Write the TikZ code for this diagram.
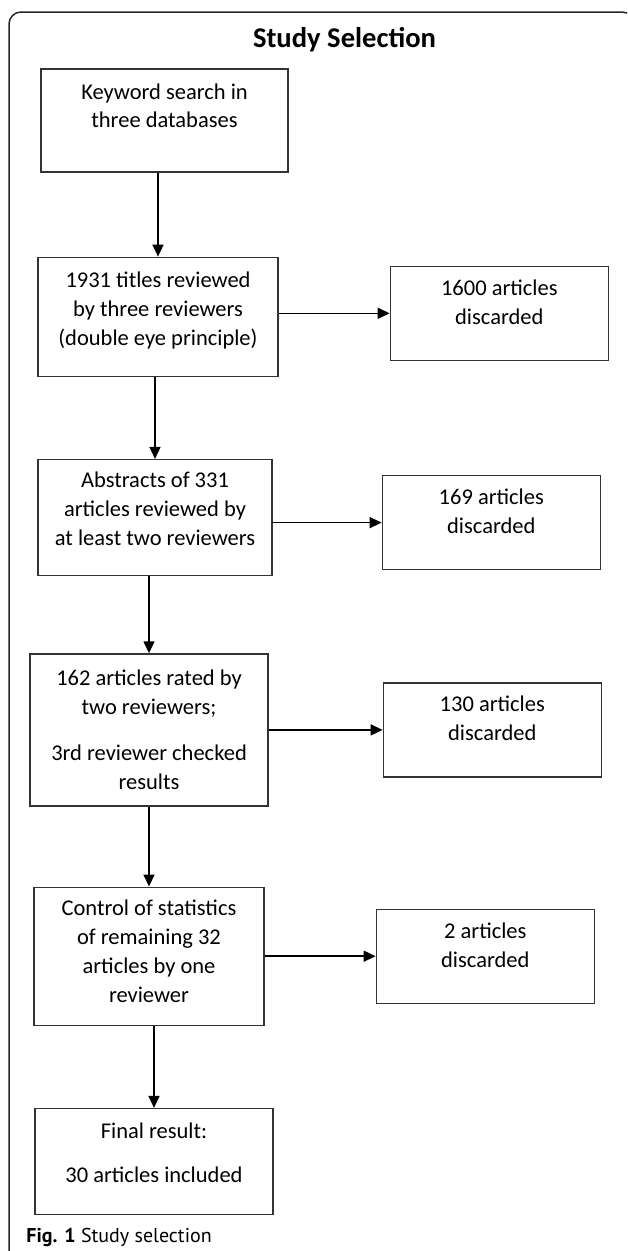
\documentclass[tikz,border=0pt]{standalone}
\usepackage{fontspec}
\setmainfont{Carlito}
\newfontfamily\capfont{PT Sans}
\usepackage{tikz}
\usetikzlibrary{positioning,arrows.meta}

\begin{document}
\begin{tikzpicture}[x=1pt, y=-1pt, thick]
    % Styles
    \tikzstyle{stage} = [draw=black!80, line width=1.3pt, rectangle, align=center, inner sep=0pt, font=\fontsize{22.5}{29}\selectfont]
    \tikzstyle{discard} = [stage, minimum width=218pt, minimum height=94pt, text depth=23pt]
    \tikzstyle{flow} = [line width=1.5pt, -{Triangle[length=12pt, width=11pt]}]

    \useasboundingbox (0,0) rectangle (627,1251);

    % Frame
    \begin{scope}
        \clip (0,0) rectangle (627,1251);
        \draw [line width=1.5pt, black!85, rounded corners=12pt] (9,12) rectangle (634,1265);
    \end{scope}

    % Title
    \node [font=\bfseries\fontsize{28.6}{34}\selectfont, anchor=base] (Head) at (344.5,47) {Study Selection};

    % Nodes
    \node [stage, minimum width=247pt, minimum height=103pt, text depth=29pt, font=\fontsize{22.5}{28}\selectfont] (Search) at (164.5,120.5) {Keyword search in\\three databases};
    \node [stage, minimum width=240pt, minimum height=119pt, text depth=17pt, below=84pt of Search, xshift=-6.5pt] (Titles) {1931 titles reviewed\\by three reviewers\\(double eye principle)};
    \node [discard, right=111pt of Titles, yshift=3.5pt] (Drop1) {1600 articles\\discarded};
    \node [stage, minimum width=234pt, minimum height=116pt, text depth=17pt, below=82pt of Titles, xshift=-3pt] (Abstracts) {Abstracts of 331\\articles reviewed by\\at least two reviewers};
    \node [discard, right=109pt of Abstracts, yshift=-5pt] (Drop2) {169 articles\\discarded};
    \node [stage, minimum width=238pt, minimum height=152pt, below=77pt of Abstracts, xshift=-6pt] (Rated) {162 articles rated by\\two reviewers;\\[17pt]3rd reviewer checked\\results};
    \node [discard, right=114pt of Rated] (Drop3) {130 articles\\discarded};
    \node [stage, minimum width=230pt, minimum height=138pt, text depth=11pt, below=80pt of Rated] (Control) {Control of statistics\\of remaining 32\\articles by one\\reviewer};
    \node [discard, right=111pt of Control] (Drop4) {2 articles\\discarded};
    \node [stage, minimum width=238pt, minimum height=106pt, text depth=17pt, below=82pt of Control, xshift=5pt] (Final) {Final result:\\[15pt]30 articles included};

    % Caption
    \node [font=\capfont\fontsize{20}{24}\selectfont, anchor=base west, inner sep=0pt] (Caption) at (26,1242) {\textbf{Fig. 1} Study selection};

    % Connections
    \draw [flow] (Search.south -| Titles) -- (Titles.north);
    \draw [flow] (Titles.south -| Abstracts) -- (Abstracts.north);
    \draw [flow] (Abstracts.south -| Rated) -- (Rated.north);
    \draw [flow] (Rated.south -| Control) -- (Control.north);
    \draw [flow] (Control.south -| Final) -- (Final.north);

    \draw [flow] (Titles.east |- Drop1) -- (Drop1.west);
    \draw [flow] (Abstracts.east |- Drop2) -- (Drop2.west);
    \draw [flow] (Rated.east |- Drop3) -- (Drop3.west);
    \draw [flow] (Control.east |- Drop4) -- (Drop4.west);
\end{tikzpicture}
\end{document}
